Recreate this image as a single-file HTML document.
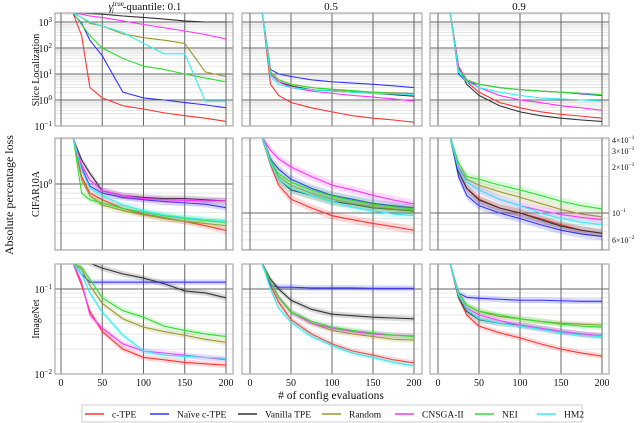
<!DOCTYPE html>
<html><head><meta charset="utf-8"><style>
body{margin:0;background:#fff;width:640px;height:423px;overflow:hidden;font-family:"Liberation Serif",serif}
svg{display:block}
text{font-family:"Liberation Serif",serif;fill:#111}
</style></head><body>
<svg id="chart" width="640" height="423" viewBox="0 0 640 423"></svg>
<script>
const xs=[15,25,35,50,75,100,125,150,175,200];
const seriesNames=["c-TPE","Naïve c-TPE","Vanilla TPE","Random","CNSGA-II","NEI","HM2"];
const xTicks=[0,50,100,150,200];
const colTitles=["0.1","0.5","0.9"];
const rowNames=["Slice Localization","CIFAR10A","ImageNet"];
// row1: Slice Localization
const s11=[[2000,300,3,1.2,0.6,0.45,0.32,0.25,0.2,0.15],[2000,900,200,50,2,1.2,1.0,0.8,0.65,0.5],[2200,2200,2100,2000,1700,1500,1300,1100,1000,1000],[2200,1500,900,700,350,250,200,150,12,8],[2200,2000,1700,1500,1100,800,600,450,330,220],[2200,800,300,100,40,20,15,10,7,5],[2200,1500,1000,700,400,150,60,60,0.9,0.9]];
const s12=[[2200,4,1.5,0.8,0.5,0.35,0.25,0.2,0.17,0.14],[2200,15,10,8,6,5,4.5,4,3.5,3],[2200,10,5,3.5,2.5,2.2,2,1.8,1.6,1.4],[2200,12,6,4,3,2.5,2.2,2,1.9,1.8],[2200,10,5,3,2.2,1.8,1.5,1.3,1.1,0.9],[2200,12,6,4,3,2.6,2.3,2,1.8,1.7],[2200,8,4,3,2.5,2.2,2,1.8,1.7,1.6]];
const s13=[[2200,20,5,2,0.8,0.5,0.35,0.28,0.24,0.2],[2200,10,5,4,3,2.5,2.2,2,1.7,1.5],[2200,20,4,1.5,0.6,0.35,0.25,0.2,0.17,0.15],[2200,15,6,4,3,2.5,2.2,2,1.8,1.6],[2200,20,6,3,1.5,1,0.8,0.6,0.5,0.4],[2200,15,6,4,3,2.5,2.2,2,1.8,1.6],[2200,12,5,3,2,1.5,1.2,1.1,1,0.9]];
// row2: CIFAR10A
const s21=[[3,1.2,0.8,0.68,0.55,0.48,0.44,0.4,0.36,0.32],[3,1.5,0.95,0.8,0.72,0.68,0.65,0.63,0.61,0.56],[3,1.8,1.3,0.85,0.75,0.72,0.7,0.7,0.68,0.66],[3,1.1,0.75,0.6,0.52,0.47,0.43,0.4,0.38,0.36],[3,1.6,1.1,0.85,0.75,0.7,0.68,0.67,0.66,0.66],[3,0.8,0.68,0.63,0.55,0.5,0.46,0.43,0.41,0.39],[3,1.4,0.9,0.75,0.6,0.52,0.47,0.44,0.42,0.41]];
const s22=[[0.42,0.25,0.17,0.13,0.11,0.095,0.088,0.082,0.077,0.072],[0.42,0.28,0.23,0.19,0.16,0.14,0.13,0.12,0.115,0.11],[0.42,0.27,0.19,0.155,0.14,0.125,0.118,0.11,0.107,0.104],[0.42,0.27,0.2,0.17,0.145,0.13,0.12,0.113,0.108,0.105],[0.42,0.33,0.28,0.24,0.2,0.17,0.155,0.14,0.128,0.119],[0.42,0.27,0.21,0.18,0.155,0.138,0.127,0.118,0.112,0.108],[0.42,0.26,0.19,0.16,0.14,0.125,0.112,0.104,0.098,0.095]];
const s23=[[0.42,0.22,0.16,0.13,0.11,0.1,0.09,0.08,0.072,0.068],[0.42,0.2,0.14,0.115,0.1,0.09,0.08,0.072,0.067,0.064],[0.42,0.22,0.16,0.128,0.11,0.1,0.088,0.078,0.072,0.068],[0.42,0.24,0.19,0.17,0.15,0.135,0.12,0.107,0.098,0.093],[0.42,0.24,0.18,0.155,0.13,0.115,0.105,0.097,0.092,0.088],[0.42,0.26,0.2,0.19,0.17,0.155,0.14,0.125,0.115,0.108],[0.42,0.23,0.18,0.155,0.13,0.115,0.1,0.09,0.084,0.08]];
// row3: ImageNet
const s31=[[0.195,0.11,0.055,0.032,0.02,0.016,0.015,0.014,0.0135,0.013],[0.195,0.15,0.12,0.12,0.12,0.12,0.12,0.12,0.12,0.12],[0.25,0.25,0.2,0.175,0.15,0.134,0.115,0.095,0.09,0.079],[0.195,0.17,0.11,0.068,0.045,0.036,0.032,0.029,0.026,0.024],[0.195,0.12,0.05,0.035,0.023,0.019,0.018,0.017,0.016,0.015],[0.195,0.18,0.13,0.079,0.056,0.047,0.037,0.033,0.03,0.028],[0.195,0.15,0.09,0.054,0.029,0.019,0.017,0.0165,0.016,0.0157]];
const s32=[[0.195,0.11,0.07,0.044,0.03,0.023,0.019,0.017,0.015,0.0138],[0.195,0.11,0.105,0.105,0.103,0.103,0.103,0.102,0.102,0.102],[0.195,0.13,0.1,0.074,0.058,0.051,0.049,0.047,0.046,0.045],[0.195,0.12,0.08,0.054,0.04,0.033,0.03,0.028,0.026,0.0255],[0.195,0.12,0.08,0.054,0.04,0.035,0.032,0.03,0.029,0.0285],[0.195,0.12,0.08,0.054,0.042,0.036,0.033,0.031,0.029,0.028],[0.195,0.1,0.06,0.041,0.028,0.022,0.018,0.016,0.014,0.0128]];
const s33=[[0.195,0.08,0.05,0.037,0.031,0.027,0.023,0.02,0.018,0.0166],[0.195,0.09,0.08,0.078,0.076,0.074,0.074,0.073,0.072,0.072],[0.195,0.08,0.055,0.044,0.04,0.038,0.035,0.032,0.03,0.0285],[0.195,0.09,0.065,0.055,0.048,0.045,0.042,0.04,0.039,0.038],[0.195,0.085,0.06,0.05,0.043,0.038,0.035,0.032,0.03,0.0285],[0.195,0.09,0.065,0.055,0.05,0.045,0.042,0.039,0.037,0.036],[0.195,0.085,0.058,0.045,0.04,0.037,0.034,0.031,0.029,0.028]];

const colors=["#ff3333","#3333ff","#333333","#999933","#ff33ff","#33dd33","#33eeee"];
const NS="http://www.w3.org/2000/svg";
const svg=document.getElementById('chart');
function mk(tag,at,parent){const e=document.createElementNS(NS,tag);for(const k in at)e.setAttribute(k,at[k]);(parent||svg).appendChild(e);return e;}
const cols=[{l:55,r:233,x0:61,x1:226},{l:242,r:422,x0:250,x1:414},{l:430,r:609,x0:438,x1:602}];
const rows=[{t:13,b:126},{t:138,b:250},{t:264,b:374}];
const yScales=[
 [{ref:100,v:1,k:26},{ref:100,v:1,k:26},{ref:100,v:1,k:26}],
 [{ref:184,v:1,k:94},{ref:213,v:0.1,k:121},{ref:213,v:0.1,k:121}],
 [{ref:289,v:0.1,k:86},{ref:289,v:0.1,k:86},{ref:289,v:0.1,k:86}]];
const data=[[s11,s12,s13],[s21,s22,s23],[s31,s32,s33]];
for(let r=0;r<3;r++)for(let c=0;c<3;c++){
 const C=cols[c],R=rows[r],S=yScales[r][c];
 const g=mk('g',{});
 
 
 const xf=x=>C.x0+(C.x1-C.x0)*x/200;
 const yf=v=>S.ref-S.k*Math.log10(v/S.v);
 const cid='clip'+r+c;
 const cp=mk('clipPath',{id:cid},g);mk('rect',{x:C.l,y:R.t,width:C.r-C.l,height:R.b-R.t},cp);
 const gg=mk('g',{'clip-path':'url(#'+cid+')'},g);
 for(let d=-3;d<=4;d++)for(let m=1;m<10;m++){const v=m*Math.pow(10,d);const y=yf(v);if(y<R.t||y>R.b)continue;
  mk('line',{x1:C.l,x2:C.r,y1:y,y2:y,stroke:m==1?'#666':'#ddd','stroke-width':m==1?1:0.7},gg);}
 for(const t of xTicks){const x=xf(t);mk('line',{x1:x,x2:x,y1:R.t,y2:R.b,stroke:'#666','stroke-width':1},gg);}
 const sd=data[r][c];
 for(let i=0;i<sd.length;i++){
  if(r>0){let up='',dn='';for(let j=0;j<xs.length;j++){up+=(j?'L':'M')+xf(xs[j])+','+yf(sd[i][j]*1.08);}
   for(let j=xs.length-1;j>=0;j--){dn+='L'+xf(xs[j])+','+yf(sd[i][j]/1.08);}
   const b=mk('path',{d:up+dn+'Z',fill:colors[i],opacity:0.18},gg);
   
   }
  const pts=xs.map((x,j)=>xf(x)+','+yf(sd[i][j])).join(' ');
  const pl=mk('polyline',{points:pts,fill:'none',stroke:colors[i],'stroke-width':1.1},gg);
  
  
 }
 mk('rect',{x:C.l,y:R.t,width:C.r-C.l,height:R.b-R.t,fill:'none',stroke:'#999','stroke-width':1},g);
 if(r==2){for(const t of xTicks){const tx=mk('text',{x:xf(t),y:386,'font-size':10,'text-anchor':'middle'},g);tx.textContent=t;
   }}
}
function sup(x,y,base,exp,anchor,name,pre,fs){fs=fs||10;const t=mk('text',{x:x,y:y,'font-size':fs,'text-anchor':anchor||'end'});
 t.innerHTML=(pre||'')+base+'<tspan dy="-4" font-size="'+(fs*0.7)+'">'+exp+'</tspan>';
 }
[[3,22],[2,48],[1,74],[0,100],[-1,126]].forEach(a=>sup(52,a[1]+4,'10',a[0]==-1?'−1':a[0],'end','y-tick-label'));
sup(52,188,'10','0','end','y-tick-label');
sup(52,293,'10','−1','end','y-tick-label');
sup(52,378,'10','−2','end','y-tick-label');
[[140,'4×','−1'],[151,'3×','−1'],[167,'2×','−1'],[213,'','−1'],[240,'6×','−2']].forEach(a=>sup(612,a[0]+3,'10',a[2],'start','right-y-tick-label',a[1],8));
let t=mk('text',{x:145,y:10,'font-size':11,'text-anchor':'middle'});
t.innerHTML='<tspan font-style="italic">γ</tspan><tspan font-size="7" dy="-4">true</tspan><tspan font-size="7" dy="7" dx="-12" font-style="italic">i</tspan><tspan dy="-3" dx="9">-quantile: '+colTitles[0]+'</tspan>';

[[331,colTitles[1]],[519,colTitles[2]]].forEach((a,i)=>{const e=mk('text',{x:a[0],y:10,'font-size':11,'text-anchor':'middle'});e.textContent=a[1];
 });
[[70,rowNames[0]],[194,rowNames[1]],[319,rowNames[2]]].forEach((a,i)=>{const e=mk('text',{x:0,y:0,'font-size':10,'text-anchor':'middle',transform:'translate(39,'+a[0]+') rotate(-90)'});e.textContent=a[1];
 });
t=mk('text',{x:0,y:0,'font-size':12,'text-anchor':'middle',transform:'translate(13,195) rotate(-90)'});t.textContent='Absolute percentage loss';

t=mk('text',{x:331,y:399,'font-size':11.5,'text-anchor':'middle'});t.textContent='# of config evaluations';

const lg=mk('g',{});
mk('rect',{x:82,y:405,width:500,height:17,fill:'#fff',stroke:'#ccc','stroke-width':1},lg);
const lx=[85,150,238,322,395,475,537];
seriesNames.forEach((n,i)=>{const e=mk('g',{},lg);
 mk('line',{x1:lx[i],x2:lx[i]+19,y1:414,y2:414,stroke:colors[i],'stroke-width':1.5},e);
 const tx=mk('text',{x:lx[i]+27,y:417.5,'font-size':9.5},e);tx.textContent=n;});
</script>
</body></html>
